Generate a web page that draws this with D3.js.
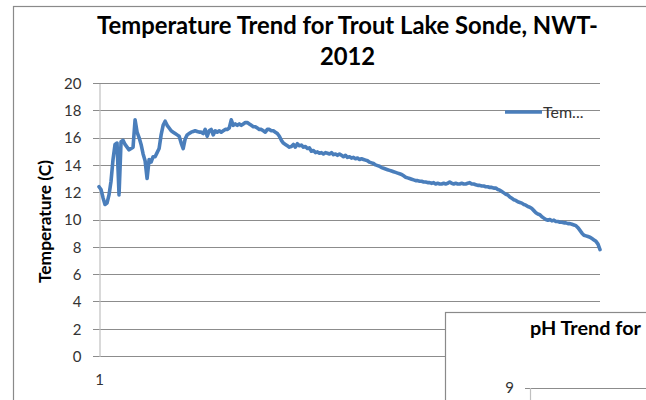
<!DOCTYPE html>
<html>
<head>
<meta charset="utf-8">
<script src="https://cdn.jsdelivr.net/npm/d3@7"></script>
<style>
  html, body { margin: 0; padding: 0; background: #fff; overflow: hidden; }
  svg { display: block; }
  text { font-family: Lato, "Open Sans", "DejaVu Sans", sans-serif; }
</style>
</head>
<body>
<svg id="chart" width="646" height="400"></svg>
<script>
// Sonde temperature readings (°C), one per logged sample
const temps = [
  12.4, 12.2, 11.6, 11.1, 11.2, 11.8, 12.8, 14.4, 15.5, 15.6,
  11.8, 15.7, 15.8, 15.5, 15.3, 15.1, 15.2, 15.3, 17.3, 16.4,
  16.0, 15.5, 14.8, 14.3, 13.0, 14.4, 14.2, 14.6, 14.6, 14.9,
  15.2, 16.2, 16.9, 17.2, 16.9, 16.7, 16.5, 16.4, 16.3, 16.2,
  16.1, 15.6, 15.2, 15.9, 16.2, 16.3, 16.4, 16.45, 16.5, 16.45,
  16.4, 16.4, 16.3, 16.6, 16.1, 16.5, 16.6, 16.2, 16.5, 16.4,
  16.5, 16.4, 16.5, 16.6, 16.6, 16.7, 17.3, 16.9, 17.0, 16.9,
  17.0, 16.9, 17.0, 17.1, 17.1, 17.0, 16.9, 16.8, 16.8, 16.7,
  16.6, 16.6, 16.5, 16.4, 16.6, 16.6, 16.5, 16.5, 16.4, 16.3,
  16.1, 15.8, 15.6, 15.5, 15.4, 15.3, 15.35, 15.5, 15.3, 15.55,
  15.4, 15.45, 15.3, 15.35, 15.2, 15.25, 15.0, 15.05, 14.9, 14.95,
  14.85, 14.9, 14.8, 14.9, 14.85, 14.8, 14.9, 14.75, 14.8, 14.7,
  14.8, 14.7, 14.6, 14.7, 14.55, 14.6, 14.5, 14.55, 14.45, 14.5,
  14.4, 14.45, 14.4, 14.35, 14.3, 14.2, 14.15, 14.1, 14.0, 13.95,
  13.9, 13.8, 13.75, 13.7, 13.65, 13.6, 13.55, 13.5, 13.45, 13.4,
  13.35, 13.3, 13.2, 13.1, 13.05, 13.0, 12.95, 12.9, 12.85, 12.85,
  12.8, 12.8, 12.75, 12.75, 12.7, 12.7, 12.65, 12.7, 12.6, 12.65,
  12.6, 12.6, 12.65, 12.6, 12.65, 12.75, 12.65, 12.6, 12.65, 12.6,
  12.6, 12.65, 12.6, 12.6, 12.65, 12.7, 12.6, 12.6, 12.55, 12.5,
  12.5, 12.45, 12.45, 12.4, 12.4, 12.35, 12.35, 12.3, 12.3, 12.2,
  12.15, 12.05, 11.95, 11.85, 11.8, 11.65, 11.55, 11.45, 11.4, 11.3,
  11.25, 11.2, 11.1, 11.05, 10.95, 10.9, 10.8, 10.65, 10.5, 10.4,
  10.35, 10.2, 10.1, 10.0, 9.95, 10.0, 9.9, 9.95, 9.85, 9.85,
  9.8, 9.8, 9.75, 9.75, 9.7, 9.7, 9.65, 9.6, 9.55, 9.4,
  9.2, 9.0, 8.85, 8.8, 8.75, 8.7, 8.6, 8.5, 8.4, 8.2,
  7.8
];
// Sample numbers used as the category axis
const samples = temps.map((_, i) => i + 1);
const yTicks = [0, 2, 4, 6, 8, 10, 12, 14, 16, 18, 20];
const xTickLabels = [1];
const seriesName = "Temperature";
const phTicks = [9];

const svg = d3.select("#chart");
const gridColor = "#8c8c8c";
const lineColor = "#4a7ebb";
const textColor = "#333";

// Shrink or grow a text element's font until it spans the given width
function fitWidth(sel, width) {
  const node = sel.node();
  const fs = parseFloat(sel.attr("font-size"));
  const w = node.getComputedTextLength();
  sel.attr("font-size", (fs * width / w).toFixed(2));
}

// Outer chart frame
svg.append("rect")
  .attr("x", 13.5).attr("y", 6.5)
  .attr("width", 700).attr("height", 500)
  .attr("fill", "#fff").attr("stroke", "#8a8a8a").attr("stroke-width", 1.2);

// Title
const t1 = svg.append("text")
  .attr("x", 347.5).attr("y", 34)
  .attr("text-anchor", "middle").attr("font-weight", "bold")
  .attr("font-size", 21).attr("fill", "#000")
  .text("Temperature Trend for Trout Lake Sonde, NWT-");
fitWidth(t1, 501);
svg.append("text")
  .attr("x", 347.5).attr("y", 65)
  .attr("text-anchor", "middle").attr("font-weight", "bold")
  .attr("font-size", t1.attr("font-size")).attr("fill", "#000")
  .text("2012");

// Scales
const x = d3.scalePoint().domain(samples).range([99, 600]);
const y = d3.scaleLinear().domain([0, 20]).range([356, 83]);

// Horizontal gridlines
svg.append("g").selectAll("line")
  .data(yTicks)
  .join("line")
  .attr("x1", 93).attr("x2", 600)
  .attr("y1", d => Math.round(y(d)) + 0.5)
  .attr("y2", d => Math.round(y(d)) + 0.5)
  .attr("stroke", gridColor).attr("stroke-width", 1.1);

// Y axis
const yAxis = svg.append("g")
  .attr("transform", "translate(99.5,0.5)")
  .call(d3.axisLeft(y).tickValues(yTicks).tickSize(0).tickPadding(18));
yAxis.select(".domain").attr("stroke", "#c0c0c0").attr("stroke-width", 1.2);
yAxis.selectAll("text")
  .attr("font-family", "Lato, sans-serif").attr("font-size", 15).attr("fill", textColor);

// X axis labels
const xAxis = svg.append("g")
  .attr("transform", "translate(0,356)")
  .call(d3.axisBottom(x).tickValues(xTickLabels).tickSize(0).tickPadding(18));
xAxis.select(".domain").remove();
xAxis.selectAll("text")
  .attr("font-family", "Lato, sans-serif").attr("font-size", 15).attr("fill", textColor);

// Y axis title
const yTitle = svg.append("text")
  .attr("transform", "translate(51,221.5) rotate(-90)")
  .attr("text-anchor", "middle").attr("font-weight", "bold")
  .attr("font-size", 13).attr("fill", "#000")
  .text("Temperature (C)");
fitWidth(yTitle, 123);

// Temperature series
const line = d3.line()
  .x((d, i) => x(samples[i]))
  .y(d => y(d));
svg.append("path")
  .datum(temps)
  .attr("d", line)
  .attr("fill", "none")
  .attr("stroke", lineColor)
  .attr("stroke-width", 3.6)
  .attr("stroke-linejoin", "round")
  .attr("stroke-linecap", "round");

// Legend
svg.append("line")
  .attr("x1", 505).attr("x2", 542).attr("y1", 112).attr("y2", 112)
  .attr("stroke", lineColor).attr("stroke-width", 3.6);
svg.append("text")
  .attr("x", 543).attr("y", 117.5)
  .attr("font-size", 16).attr("fill", textColor)
  .text(seriesName.slice(0, 3) + "...");

// Overlapping pH chart frame
const ph = svg.append("g");
ph.append("rect")
  .attr("x", 445.5).attr("y", 312.5)
  .attr("width", 400).attr("height", 300)
  .attr("fill", "#fff").attr("stroke", "#8a8a8a").attr("stroke-width", 1.2);
const phTitle = ph.append("text")
  .attr("x", 530).attr("y", 335)
  .attr("font-weight", "bold").attr("font-size", 17).attr("fill", "#000")
  .text("pH Trend for");
fitWidth(phTitle, 111);
const phY = d3.scaleLinear().domain([0, 9]).range([640, 388]);
ph.append("g").selectAll("line")
  .data(phTicks)
  .join("line")
  .attr("x1", 525).attr("x2", 646)
  .attr("y1", d => Math.round(phY(d)) + 0.5)
  .attr("y2", d => Math.round(phY(d)) + 0.5)
  .attr("stroke", gridColor);
ph.append("line")
  .attr("x1", 530.5).attr("x2", 530.5)
  .attr("y1", 388).attr("y2", 400)
  .attr("stroke", "#c0c0c0").attr("stroke-width", 1.2);
ph.append("g").selectAll("text")
  .data(phTicks)
  .join("text")
  .attr("x", 514).attr("y", d => phY(d))
  .attr("dy", "0.32em").attr("text-anchor", "end")
  .attr("font-size", 15).attr("fill", textColor)
  .text(d => d);
</script>
</body>
</html>
